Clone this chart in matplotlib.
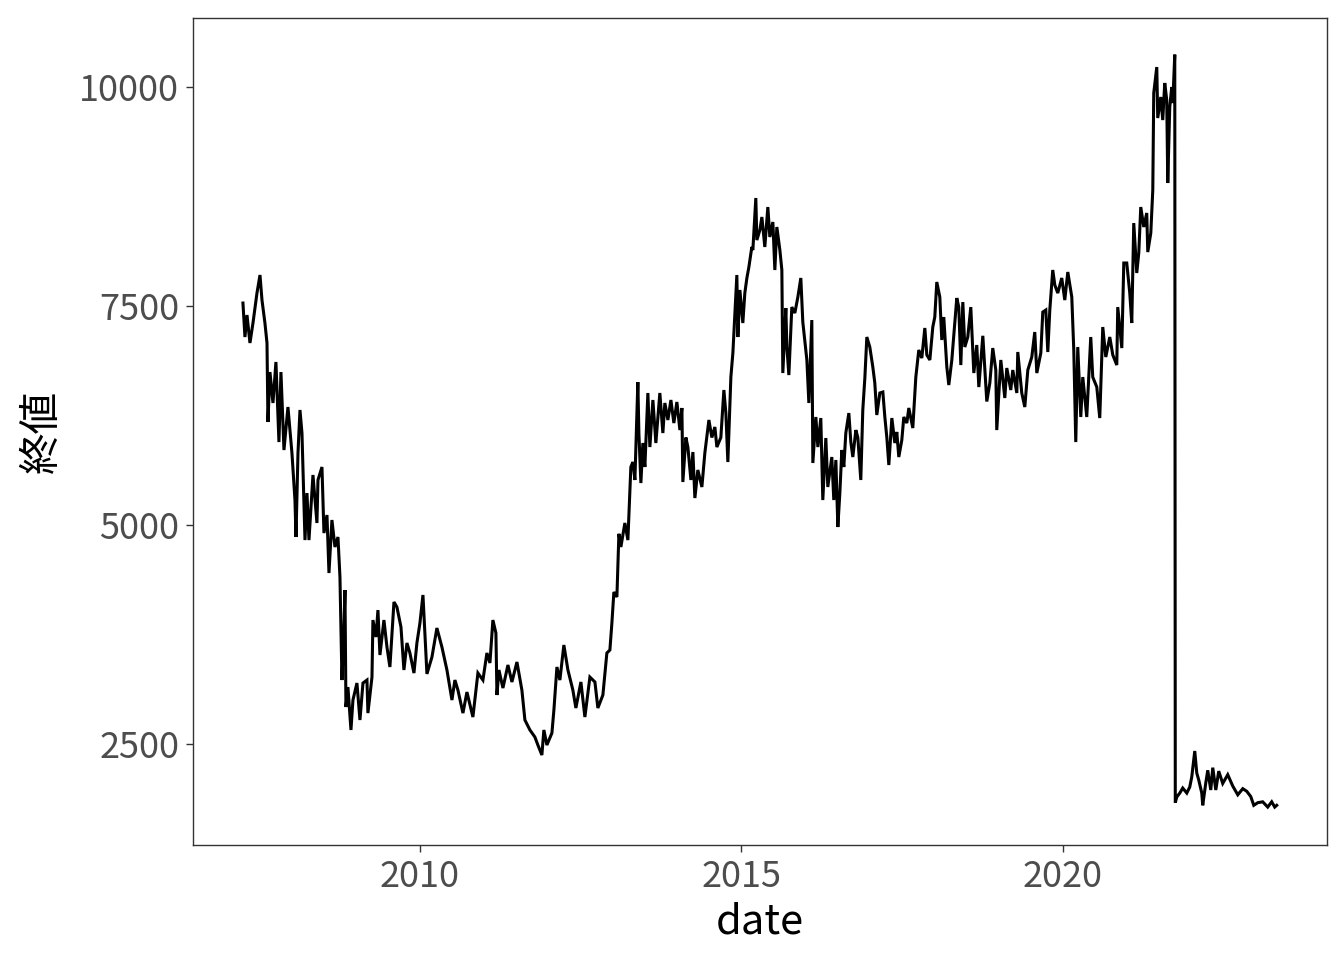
import matplotlib
matplotlib.use("Agg")
import matplotlib.pyplot as plt

# ----------------------------
# Data (date as decimal year)
# ----------------------------
YEAR = [
    2007.247, 2007.278, 2007.310, 2007.356, 2007.403, 2007.465, 2007.512, 2007.543,
    2007.589, 2007.621, 2007.636, 2007.667, 2007.714, 2007.760, 2007.807, 2007.838,
    2007.885, 2007.947, 2008.009, 2008.056, 2008.072, 2008.103, 2008.134, 2008.165,
    2008.212, 2008.243, 2008.274, 2008.336, 2008.398, 2008.414, 2008.476, 2008.507,
    2008.554, 2008.585, 2008.631, 2008.678, 2008.725, 2008.756, 2008.787, 2008.818,
    2008.834, 2008.849, 2008.880, 2008.927, 2008.958, 2009.020, 2009.067, 2009.114,
    2009.176, 2009.191, 2009.254, 2009.269, 2009.316, 2009.347, 2009.378, 2009.440,
    2009.487, 2009.533, 2009.596, 2009.642, 2009.705, 2009.751, 2009.798, 2009.844,
    2009.907, 2009.953, 2010.000, 2010.047, 2010.109, 2010.187, 2010.264, 2010.342,
    2010.420, 2010.498, 2010.544, 2010.591, 2010.669, 2010.731, 2010.824, 2010.902,
    2010.980, 2011.042, 2011.089, 2011.135, 2011.182, 2011.198, 2011.229, 2011.291,
    2011.369, 2011.431, 2011.509, 2011.586, 2011.633, 2011.711, 2011.788, 2011.835,
    2011.897, 2011.928, 2011.975, 2012.053, 2012.084, 2012.131, 2012.177, 2012.239,
    2012.302, 2012.379, 2012.426, 2012.504, 2012.566, 2012.644, 2012.722, 2012.768,
    2012.846, 2012.908, 2012.955, 2012.986, 2013.017, 2013.064, 2013.095, 2013.126,
    2013.188, 2013.235, 2013.281, 2013.313, 2013.344, 2013.390, 2013.406, 2013.437,
    2013.468, 2013.499, 2013.546, 2013.577, 2013.624, 2013.670, 2013.732, 2013.779,
    2013.810, 2013.857, 2013.904, 2013.950, 2013.997, 2014.044, 2014.075, 2014.090,
    2014.137, 2014.168, 2014.215, 2014.246, 2014.277, 2014.323, 2014.386, 2014.432,
    2014.495, 2014.541, 2014.588, 2014.619, 2014.681, 2014.728, 2014.759, 2014.790,
    2014.837, 2014.868, 2014.930, 2014.946, 2014.977, 2015.023, 2015.054, 2015.086,
    2015.117, 2015.163, 2015.179, 2015.225, 2015.241, 2015.288, 2015.319, 2015.365,
    2015.412, 2015.443, 2015.490, 2015.521, 2015.552, 2015.599, 2015.630, 2015.645,
    2015.692, 2015.708, 2015.739, 2015.785, 2015.832, 2015.879, 2015.925, 2015.956,
    2016.019, 2016.050, 2016.096, 2016.112, 2016.159, 2016.190, 2016.236, 2016.267,
    2016.314, 2016.345, 2016.407, 2016.438, 2016.470, 2016.501, 2016.532, 2016.563,
    2016.594, 2016.625, 2016.672, 2016.703, 2016.734, 2016.781, 2016.812, 2016.858,
    2016.889, 2016.921, 2016.952, 2016.998, 2017.045, 2017.076, 2017.107, 2017.154,
    2017.201, 2017.232, 2017.263, 2017.294, 2017.341, 2017.387, 2017.418, 2017.449,
    2017.496, 2017.527, 2017.574, 2017.605, 2017.667, 2017.714, 2017.760, 2017.807,
    2017.854, 2017.885, 2017.932, 2017.978, 2018.009, 2018.040, 2018.087, 2018.118,
    2018.149, 2018.196, 2018.227, 2018.274, 2018.305, 2018.351, 2018.382, 2018.414,
    2018.445, 2018.476, 2018.522, 2018.569, 2018.616, 2018.662, 2018.694, 2018.756,
    2018.818, 2018.865, 2018.911, 2018.958, 2018.973, 2019.036, 2019.098, 2019.129,
    2019.191, 2019.222, 2019.285, 2019.300, 2019.362, 2019.409, 2019.456, 2019.518,
    2019.564, 2019.596, 2019.658, 2019.689, 2019.736, 2019.767, 2019.798, 2019.844,
    2019.876, 2019.922, 2019.984, 2020.031, 2020.078, 2020.140, 2020.171, 2020.202,
    2020.233, 2020.280, 2020.311, 2020.373, 2020.435, 2020.466, 2020.529, 2020.575,
    2020.622, 2020.669, 2020.731, 2020.778, 2020.840, 2020.855, 2020.918, 2020.949,
    2020.995, 2021.042, 2021.073, 2021.104, 2021.151, 2021.182, 2021.213, 2021.260,
    2021.306, 2021.322, 2021.369, 2021.400, 2021.415, 2021.462, 2021.477, 2021.524,
    2021.555, 2021.586, 2021.617, 2021.633, 2021.664, 2021.695, 2021.711, 2021.742,
    2021.750, 2021.773, 2021.820, 2021.866, 2021.929, 2021.975, 2022.006, 2022.053,
    2022.084, 2022.115, 2022.162, 2022.177, 2022.224, 2022.255, 2022.302, 2022.333,
    2022.380, 2022.426, 2022.488, 2022.566, 2022.644, 2022.722, 2022.800, 2022.862,
    2022.924, 2022.971, 2023.033, 2023.110, 2023.188, 2023.250, 2023.297, 2023.328,
]

CLOSE = [
    7534, 7146, 7397, 7078, 7306, 7648, 7854, 7568,
    7306, 7078, 6176, 6746, 6393, 6861, 5947, 6746,
    5856, 6347, 5822, 5285, 4863, 5822, 6313, 6050,
    4828, 5365, 4828, 5571, 5023, 5514, 5662, 4908,
    5114, 4452, 5057, 4749, 4863, 4406, 3230, 3835,
    4258, 2922, 3150, 2660, 3002, 3196, 2774, 3196,
    3230, 2853, 3264, 3915, 3721, 4029, 3516, 3915,
    3607, 3379, 4121, 4064, 3835, 3345, 3653, 3539,
    3310, 3653, 3881, 4201, 3300, 3493, 3824, 3607,
    3345, 3002, 3230, 3116, 2853, 3093, 2808, 3310,
    3230, 3539, 3425, 3915, 3767, 3059, 3345, 3139,
    3402, 3208, 3436, 3116, 2774, 2660, 2580, 2488,
    2374, 2660, 2488, 2625, 2888, 3379, 3230, 3630,
    3345, 3116, 2911, 3208, 2808, 3264, 3208, 2911,
    3059, 3539, 3573, 3881, 4235, 4178, 4900, 4749,
    5023, 4828, 5662, 5719, 5514, 6632, 6050, 5479,
    5936, 5662, 6507, 5890, 6427, 5936, 6507, 6050,
    6393, 6199, 6427, 6164, 6404, 6084, 6336, 5491,
    5999, 5890, 5514, 5833, 5308, 5628, 5434, 5822,
    6199, 5999, 6119, 5890, 5999, 6541, 6278, 5719,
    6690, 6963, 7854, 7146, 7683, 7306, 7648, 7820,
    7945, 8174, 8139, 8733, 8253, 8367, 8516, 8174,
    8630, 8288, 8459, 7911, 8402, 8139, 7911, 6735,
    7477, 7032, 6712, 7488, 7420, 7603, 7820, 7317,
    6884, 6393, 7340, 5708, 6233, 5890, 6221, 5285,
    5993, 5434, 5776, 5285, 5742, 4977, 5365, 5856,
    5662, 6050, 6278, 5947, 5776, 6084, 5999, 5514,
    6313, 6678, 7146, 7032, 6804, 6621, 6256, 6507,
    6518, 6233, 5999, 5685, 6221, 5936, 6062, 5776,
    5970, 6233, 6164, 6336, 6107, 6689, 6998, 6906,
    7249, 6941, 6884, 7260, 7374, 7774, 7603, 7112,
    7374, 6804, 6598, 6884, 7169, 7591, 7488, 6826,
    7545, 7032, 7146, 7488, 6735, 7055, 6575, 7160,
    6410, 6621, 7020, 6769, 6084, 6884, 6450, 6792,
    6541, 6769, 6507, 6975, 6507, 6347, 6769, 6918,
    7203, 6735, 6963, 7431, 7454, 6975, 7454, 7911,
    7740, 7648, 7820, 7568, 7888, 7603, 6998, 5947,
    7032, 6233, 6689, 6233, 7146, 6689, 6575, 6221,
    7260, 6918, 7146, 6941, 6826, 7488, 7020, 7991,
    7991, 7648, 7306, 8447, 7877, 8105, 8630, 8402,
    8562, 8116, 8333, 8824, 9932, 10228, 9646, 9886,
    9623, 10046, 9852, 8904, 9772, 10000, 9817, 10370,
    1830, 1895, 1940, 1997, 1940, 2009, 2123, 2420,
    2169, 2089, 1940, 1800, 2054, 2200, 1975, 2230,
    1975, 2190, 2050, 2150, 2020, 1920, 1990, 1960,
    1900, 1800, 1830, 1840, 1780, 1840, 1780, 1800,
]

# ----------------------------
# Plot
# ----------------------------
plt.rcParams['font.family'] = ['Noto Sans CJK JP', 'DejaVu Sans']

fig = plt.figure(figsize=(13.44, 9.6), dpi=100)
ax = fig.add_axes([193 / 1344, 1 - 845 / 960, (1327 - 193) / 1344, (845 - 18) / 960])

ax.plot(YEAR, CLOSE, color="black", lw=2.2, solid_joinstyle="miter")

ax.set_xlim(2006.47, 2024.11)
ax.set_ylim(1347, 10788)
ax.set_xticks([2010, 2015, 2020])
ax.set_yticks([2500, 5000, 7500, 10000])

ax.tick_params(axis="both", colors="#333333", labelcolor="#4D4D4D",
               labelsize=26, length=5, width=1.0, pad=5)

for spine in ax.spines.values():
    spine.set_color("#333333")
    spine.set_linewidth(1.0)

ax.set_xlabel("date", fontsize=30, labelpad=5)
ax.set_ylabel("終値", fontsize=30, labelpad=12)

fig.savefig("out.png", dpi=100)
